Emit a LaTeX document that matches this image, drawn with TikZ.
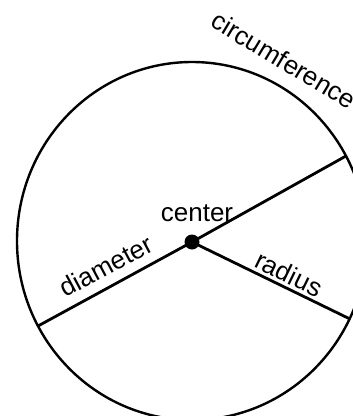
\documentclass[tikz,border=0pt]{standalone}
\usepackage{fontspec}
\setmainfont{Liberation Sans}
\begin{document}
\begin{tikzpicture}[x=1pt,y=-1pt,
  rim/.style={line width=2.4pt,black},
  seg/.style={line width=2.8pt,black},
  lbl/.style={inner sep=0pt,font=\fontsize{26}{30}\selectfont}]
\useasboundingbox (0,0) rectangle (353,416);
\begin{scope}
\clip (0,0) rectangle (353,416);
\draw[rim] (192,241) ellipse [x radius=175, y radius=179];
\coordinate (c) at (192,242);
\coordinate (dl) at (38,326);
\coordinate (dr) at (346,156);
\coordinate (re) at (350,319);
\draw[seg] (dl) -- (c) -- (dr);
\draw[seg] (c) -- (re);
\fill (c) circle (7.5);
\node[lbl] (center) at (197,213) {center};
\node[lbl,rotate=28] (diam) at (106,266) {diameter};
\node[lbl,rotate=-26] (rad) at (289,274) {radius};
\node[lbl,rotate=-31] (circ) at (284,60) {circumference};
\end{scope}
\end{tikzpicture}
\end{document}
